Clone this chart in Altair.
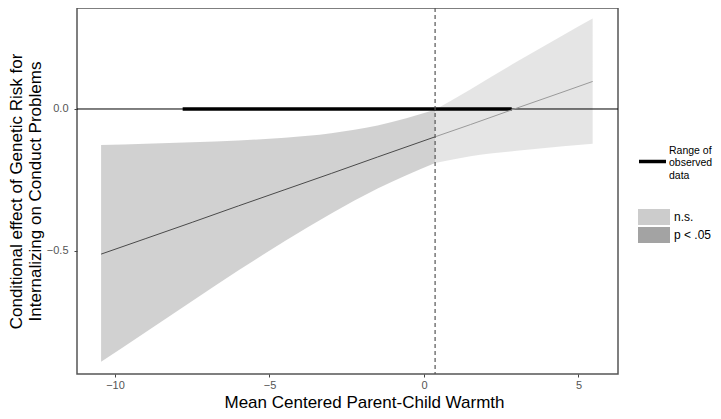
import altair as alt
import pandas as pd

# values
x_vals = [-10.45, -9.0, -7.5, -6.0, -4.5, -3.0, -1.5, 0.36, 1.5, 3.0, 4.5, 5.46]
fit_vals = [-0.511, -0.456, -0.399, -0.341, -0.284, -0.227, -0.169, -0.098, -0.055, 0.003, 0.060, 0.097]
lower_vals = [-0.890, -0.785, -0.676, -0.568, -0.465, -0.368, -0.280, -0.190, -0.166, -0.147, -0.131, -0.122]
upper_vals = [-0.127, -0.122, -0.117, -0.111, -0.101, -0.085, -0.058, -0.003, 0.069, 0.166, 0.260, 0.319]
jn_point = 0.36
range_start, range_end = -7.81, 2.84
sig_labels = ["n.s.", "p < .05"]
range_label = "Range of observed data"

rows = []
for x, f, lo, up in zip(x_vals, fit_vals, lower_vals, upper_vals):
    if x <= jn_point:
        rows.append({"x": x, "fit": f, "lo": lo, "up": up, "sig": "p < .05"})
    if x >= jn_point:
        rows.append({"x": x, "fit": f, "lo": lo, "up": up, "sig": "n.s."})
df = pd.DataFrame(rows)

xscale = alt.Scale(domain=[-11.23, 6.28], nice=False, zero=False)
yscale = alt.Scale(domain=[-0.9331, 0.3556], nice=False, zero=False)

xaxis = alt.Axis(values=[-10, -5, 0, 5], title="Mean Centered Parent-Child Warmth",
                 format="d", grid=False, domain=False, tickColor="#444444", tickSize=3,
                 labelColor="#555555", labelFontSize=11, labelPadding=2,
                 titleFontSize=17, titleFontWeight="normal", titleColor="#000000",
                 titleBaseline="alphabetic", titleY=33, titleX=287)
yaxis = alt.Axis(values=[-0.5, 0.0], format=".1f",
                 title=["Conditional effect of Genetic Risk for", "Internalizing on Conduct Problems"],
                 grid=False, domain=False, tickColor="#444444", tickSize=3,
                 labelColor="#555555", labelFontSize=11, labelPadding=6,
                 titleFontSize=17, titleFontWeight="normal", titleColor="#000000",
                 titleLineHeight=19, titlePadding=2)

base = alt.Chart(df)

band = base.mark_area(opacity=0.5, interpolate="monotone").encode(
    x=alt.X("x:Q", scale=xscale, axis=xaxis),
    y=alt.Y("lo:Q", scale=yscale, axis=yaxis),
    y2="up:Q",
    fill=alt.Fill("sig:N", scale=alt.Scale(domain=sig_labels, range=["#cccccc", "#a3a3a3"]),
                  legend=alt.Legend(title=None, orient="none", legendX=569, legendY=201,
                                    symbolType="M-2,-1H2V1H-2Z", symbolSize=256,
                                    symbolStrokeWidth=0, symbolOpacity=1, rowPadding=2,
                                    labelFontSize=12, labelColor="#000000", labelOffset=12,
                                    padding=0)),
)

zero_line = alt.Chart(pd.DataFrame({"y": [0.0]})).mark_rule(color="#000000", strokeWidth=1).encode(
    y=alt.Y("y:Q", scale=yscale))

fit_sig = base.transform_filter(alt.datum.sig == "p < .05").mark_line(
    color="#4a4a4a", strokeWidth=1).encode(x="x:Q", y="fit:Q")
fit_ns = base.transform_filter(alt.datum.sig == "n.s.").mark_line(
    color="#9a9a9a", strokeWidth=1).encode(x="x:Q", y="fit:Q")

range_df = pd.DataFrame({"x": [range_start], "x2": [range_end], "y": [0.0], "lab": [range_label]})
range_rule = alt.Chart(range_df).mark_rule(strokeWidth=3.5).encode(
    x=alt.X("x:Q", scale=xscale), x2="x2:Q", y=alt.Y("y:Q", scale=yscale),
    stroke=alt.Stroke("lab:N", scale=alt.Scale(domain=[range_label], range=["#000000"]),
                      legend=alt.Legend(title=None, orient="none", legendX=560, legendY=127,
                                        symbolType="M-1,0.815H1", symbolStrokeWidth=3.5, symbolSize=729,
                                        labelFontSize=10.5, labelColor="#000000", labelOffset=1,
                                        padding=0,
                                        labelExpr="['Range of', 'observed', 'data']")),
)

jn_rule = alt.Chart(pd.DataFrame({"x": [jn_point]})).mark_rule(
    color="#555555", strokeWidth=1.2, strokeDash=[4, 3]).encode(x=alt.X("x:Q", scale=xscale))

chart = alt.layer(band, zero_line, range_rule, fit_sig, fit_ns, jn_rule).properties(
    width=541, height=366,
    autosize=alt.AutoSizeParams(type="none"),
    padding={"left": 69, "top": 0, "right": 95, "bottom": 37},
).configure(
    font="Liberation Sans"
).configure_view(
    stroke="#555555", strokeWidth=1.5
).resolve_scale(fill="independent", stroke="independent")

chart.save("out.html", embed_options={"renderer": "svg", "actions": False})
